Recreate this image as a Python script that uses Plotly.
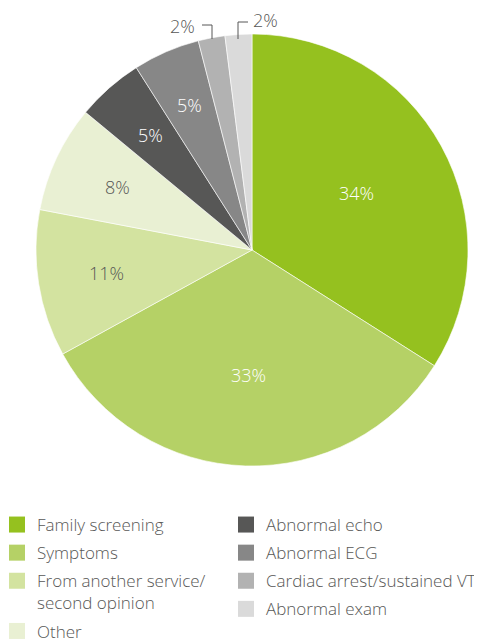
import math
import plotly.graph_objects as go

labels = ["Family screening", "Symptoms", "From another service/<br>second opinion", "Other",
          "Abnormal echo", "Abnormal ECG", "Cardiac arrest/sustained VT", "Abnormal exam"]
values = [34, 33, 11, 8, 5, 5, 2, 2]
colors = ["#95c11f", "#b5d166", "#d3e3a0", "#e9f0d3", "#575756", "#878787", "#b2b2b2", "#dadada"]
text_colors = ["white", "white", "#575756", "#575756", "white", "white", "#575756", "#575756"]
# radial position (fraction of radius) of each inside label; None -> outside label with leader
label_radius = [0.55, 0.58, 0.68, 0.69, 0.71, 0.73, None, None]

# page has an 8px default body margin; figure extends a little past the window bottom
OFF = 8
W, H = 482 - OFF, 660


def px(sx):
    return (sx - OFF) / W


def py(sy):
    return 1 - (sy - OFF) / H


cx, cy, R = 252, 250, 216
FONT = "Open Sans"
WEIGHT = 300

fig = go.Figure()
fig.add_trace(go.Pie(
    labels=labels, values=values, sort=False, direction="clockwise", rotation=0,
    marker=dict(colors=colors, line=dict(color="white", width=0.6)),
    textinfo="none",
    showlegend=False, hoverinfo="label+percent",
    domain=dict(x=[px(cx - R), px(cx + R)], y=[py(cy + R), py(cy - R)]),
))

# percentage labels at each slice's mid-angle
total = sum(values)
cum = 0
for v, tc, fr in zip(values, text_colors, label_radius):
    mid = (cum + v / 2) / total * 2 * math.pi
    cum += v
    if fr is None:
        continue
    sx = cx + fr * R * math.sin(mid)
    sy = cy - fr * R * math.cos(mid)
    fig.add_annotation(text=f"{v}%", x=px(sx), y=py(sy), xref="paper", yref="paper",
                       xanchor="center", yanchor="middle", showarrow=False,
                       font=dict(size=18, color=tc, family=FONT, weight=WEIGHT))

col1 = [0, 1, 2, 3]
col2 = [4, 5, 6, 7]
for leg, idxs in (("legend", col1), ("legend2", col2)):
    for i in idxs:
        fig.add_trace(go.Scatter(
            x=[None], y=[None], mode="markers", name=labels[i],
            marker=dict(symbol="square", size=16, color=colors[i]),
            legend=leg, legendgroup=labels[i], showlegend=True,
        ))

# small-slice outside labels with leader lines
lab_font = dict(size=18, color="#575756", family=FONT, weight=WEIGHT)
fig.add_annotation(text=f"{values[6]}%", x=px(182), y=py(26), xref="paper", yref="paper",
                   xanchor="center", yanchor="middle", showarrow=False, font=lab_font)
fig.add_annotation(text=f"{values[7]}%", x=px(265), y=py(20), xref="paper", yref="paper",
                   xanchor="center", yanchor="middle", showarrow=False, font=lab_font)
line_style = dict(color="#575756", width=1)
for (x0, y0, x1, y1) in [(202, 25, 212, 25), (212, 25, 212, 39), (238, 22, 248, 22), (238, 22, 238, 39)]:
    fig.add_shape(type="line", xref="paper", yref="paper",
                  x0=px(x0), y0=py(y0), x1=px(x1), y1=py(y1), line=line_style)

legfont = dict(size=17, color="#575756", family=FONT, weight=WEIGHT)
fig.update_layout(
    width=W, height=H, margin=dict(l=0, r=0, t=0, b=0, autoexpand=False),
    paper_bgcolor="white", plot_bgcolor="white",
    xaxis=dict(visible=False), yaxis=dict(visible=False),
    legend=dict(x=px(-3), xanchor="left", y=py(507), yanchor="top", font=legfont,
                tracegroupgap=3, valign="top", bgcolor="rgba(0,0,0,0)", itemclick=False),
    legend2=dict(x=px(226), xanchor="left", y=py(507), yanchor="top", font=legfont,
                 tracegroupgap=3, valign="top", bgcolor="rgba(0,0,0,0)", itemclick=False),
)
fig.write_html("out.html")
